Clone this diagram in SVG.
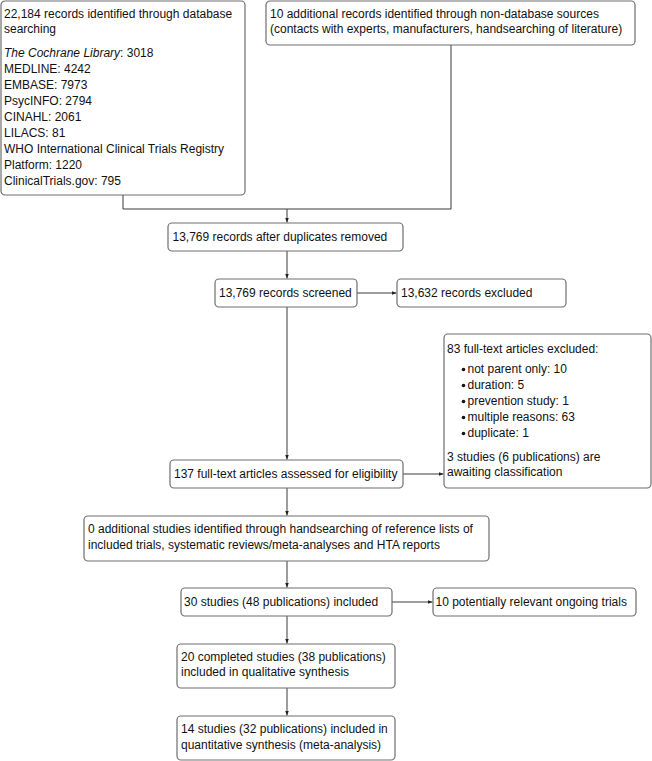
<svg xmlns="http://www.w3.org/2000/svg" width="652" height="761" viewBox="0 0 652 761">
<style>
.box{fill:#fff;stroke:#6e6e6e;stroke-width:1.2}
.t{font-family:"Liberation Sans",Arial,sans-serif;font-size:12px;fill:#111}
.c{fill:none;stroke:#3a3a3a;stroke-width:1}
</style>
<defs>
<marker id="ah" markerUnits="userSpaceOnUse" markerWidth="6" markerHeight="6" refX="5" refY="2.5" orient="auto">
<path d="M0,0.5 L5,2.5 L0,4.5 z" fill="#222"/>
</marker>
</defs>
<rect width="652" height="761" fill="#fff"/>
<g id="connectors">
<polyline class="c" points="123,195 123,209 451,209 451,45"/>
<line class="c" x1="287" y1="209" x2="287" y2="222.5" marker-end="url(#ah)"/>
<line class="c" x1="287" y1="251" x2="287" y2="278.5" marker-end="url(#ah)"/>
<line class="c" x1="357" y1="293" x2="396.5" y2="293" marker-end="url(#ah)"/>
<line class="c" x1="287" y1="307" x2="287" y2="459.5" marker-end="url(#ah)"/>
<line class="c" x1="403" y1="474" x2="443.5" y2="474" marker-end="url(#ah)"/>
<line class="c" x1="287" y1="488" x2="287" y2="515.5" marker-end="url(#ah)"/>
<line class="c" x1="287" y1="561" x2="287" y2="587.5" marker-end="url(#ah)"/>
<line class="c" x1="392" y1="602" x2="432.5" y2="602" marker-end="url(#ah)"/>
<line class="c" x1="287" y1="616" x2="287" y2="643.5" marker-end="url(#ah)"/>
<line class="c" x1="287" y1="688" x2="287" y2="715.5" marker-end="url(#ah)"/>
</g>
<g id="n1">
<rect class="box" x="1" y="1" width="244" height="194" rx="4"/>
<text class="t" x="4" y="18">22,184 records identified through database</text>
<text class="t" x="4" y="33">searching</text>
<text class="t" x="4" y="57"><tspan font-style="italic">The Cochrane Library</tspan>: 3018</text>
<text class="t" x="4" y="73">MEDLINE: 4242</text>
<text class="t" x="4" y="89">EMBASE: 7973</text>
<text class="t" x="4" y="105">PsycINFO: 2794</text>
<text class="t" x="4" y="121">CINAHL: 2061</text>
<text class="t" x="4" y="137">LILACS: 81</text>
<text class="t" x="4" y="153">WHO International Clinical Trials Registry</text>
<text class="t" x="4" y="169">Platform: 1220</text>
<text class="t" x="4" y="185">ClinicalTrials.gov: 795</text>
</g>
<g id="n2">
<rect class="box" x="266" y="1" width="369" height="44" rx="4"/>
<text class="t" x="270" y="18">10 additional records identified through non-database sources</text>
<text class="t" x="270" y="33">(contacts with experts, manufacturers, handsearching of literature)</text>
</g>
<g id="n3">
<rect class="box" x="168" y="223" width="235" height="28" rx="4"/>
<text class="t" x="172.5" y="241">13,769 records after duplicates removed</text>
</g>
<g id="n4">
<rect class="box" x="215" y="279" width="142" height="28" rx="4"/>
<text class="t" x="219" y="297">13,769 records screened</text>
</g>
<g id="n5">
<rect class="box" x="397" y="279" width="169" height="28" rx="4"/>
<text class="t" x="401" y="297">13,632 records excluded</text>
</g>
<g id="n6">
<rect class="box" x="444" y="334" width="207" height="154" rx="4"/>
<text class="t" x="447" y="353">83 full-text articles excluded:</text>
<circle cx="463.5" cy="369.5" r="1.8" fill="#111"/>
<text class="t" x="467.5" y="373">not parent only: 10</text>
<circle cx="463.5" cy="385.5" r="1.8" fill="#111"/>
<text class="t" x="467.5" y="389">duration: 5</text>
<circle cx="463.5" cy="401.5" r="1.8" fill="#111"/>
<text class="t" x="467.5" y="405">prevention study: 1</text>
<circle cx="463.5" cy="417.5" r="1.8" fill="#111"/>
<text class="t" x="467.5" y="421">multiple reasons: 63</text>
<circle cx="463.5" cy="433.5" r="1.8" fill="#111"/>
<text class="t" x="467.5" y="437">duplicate: 1</text>
<text class="t" x="447" y="461">3 studies (6 publications) are</text>
<text class="t" x="447" y="476">awaiting classification</text>
</g>
<g id="n7">
<rect class="box" x="170" y="460" width="233" height="28" rx="4"/>
<text class="t" x="174" y="478">137 full-text articles assessed for eligibility</text>
</g>
<g id="n8">
<rect class="box" x="84" y="516" width="405" height="45" rx="4"/>
<text class="t" x="88" y="533">0 additional studies identified through handsearching of reference lists of</text>
<text class="t" x="88" y="549">included trials, systematic reviews/meta-analyses and HTA reports</text>
</g>
<g id="n9">
<rect class="box" x="181" y="588" width="211" height="28" rx="4"/>
<text class="t" x="184" y="606">30 studies (48 publications) included</text>
</g>
<g id="n10">
<rect class="box" x="433" y="588" width="203" height="28" rx="4"/>
<text class="t" x="435.5" y="606">10 potentially relevant ongoing trials</text>
</g>
<g id="n11">
<rect class="box" x="177" y="644" width="218" height="44" rx="4"/>
<text class="t" x="181" y="661">20 completed studies (38 publications)</text>
<text class="t" x="181" y="676">included in qualitative synthesis</text>
</g>
<g id="n12">
<rect class="box" x="177" y="716" width="218" height="44" rx="4"/>
<text class="t" x="181" y="733">14 studies (32 publications) included in</text>
<text class="t" x="181" y="749">quantitative synthesis (meta-analysis)</text>
</g>
</svg>
